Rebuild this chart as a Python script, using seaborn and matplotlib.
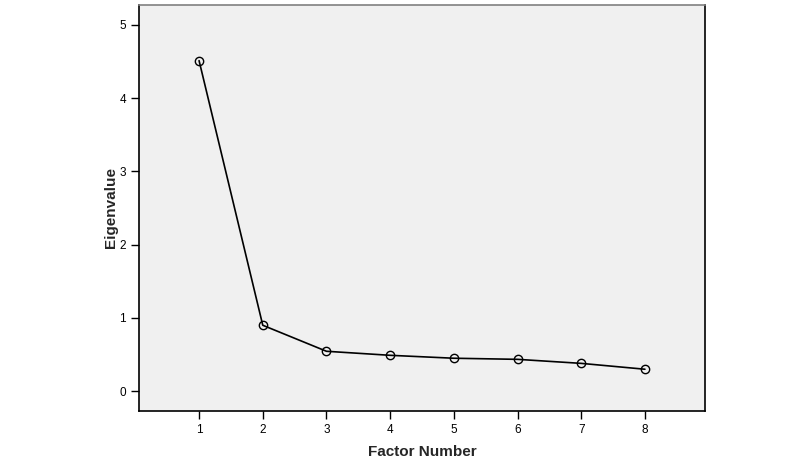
import matplotlib
matplotlib.use('Agg')
import matplotlib.pyplot as plt
import seaborn as sns
import pandas as pd

# Scree plot values
factors = [1, 2, 3, 4, 5, 6, 7, 8]
eigenvalues = [4.51, 0.90, 0.545, 0.49, 0.45, 0.435, 0.38, 0.30]

df = pd.DataFrame({'Factor Number': factors, 'Eigenvalue': eigenvalues})

sns.set_style('ticks')
plt.rcParams['font.family'] = ['Liberation Sans', 'DejaVu Sans']

fig = plt.figure(figsize=(8, 4.7), dpi=100)
ax = fig.add_axes([0.174, 0.1255, 0.707, 0.864])
ax.set_facecolor('#f0f0f0')

sns.lineplot(data=df, x='Factor Number', y='Eigenvalue', ax=ax, color='black',
             linewidth=1.2, marker='o', markersize=6, markerfacecolor='none',
             markeredgecolor='black', markeredgewidth=1)

ax.set_xlim(0.06, 8.94)
ax.set_ylim(-0.27, 5.27)
ax.set_xticks(factors)
ax.set_yticks([0, 1, 2, 3, 4, 5])
ax.tick_params(direction='out', length=6, width=1, labelsize=8.5, colors='black')

for side in ['left', 'bottom', 'right']:
    ax.spines[side].set_color('black')
    ax.spines[side].set_linewidth(1.2)
ax.spines['top'].set_color('#808080')
ax.spines['top'].set_linewidth(1.2)

ax.set_xlabel('Factor Number', fontsize=11, fontweight='bold', labelpad=6)
ax.set_ylabel('Eigenvalue', fontsize=11, fontweight='bold', labelpad=1)

fig.savefig('out.png', dpi=100)
